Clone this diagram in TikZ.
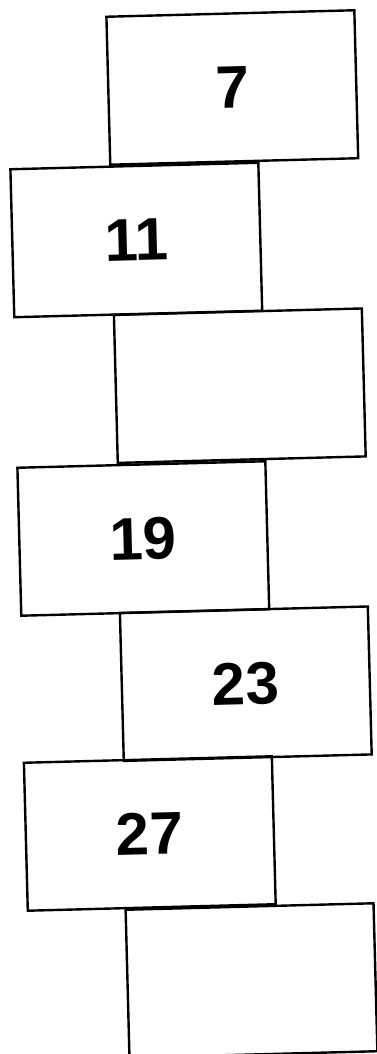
\documentclass[tikz,border=0pt]{standalone}
\usepackage{fontspec}
\setmainfont{Liberation Sans}
\tikzset{cell/.style={draw,rectangle,line width=2.4pt,minimum width=248pt,minimum height=148pt,
 rotate=1.5,inner sep=0pt,font=\bfseries\fontsize{60}{60}\selectfont}}

\begin{document}
\begin{tikzpicture}[x=1pt,y=1pt]
\useasboundingbox (0,0) rectangle (376,1054);
\node[cell](c7) at(232.3,966.5){7};
\node[cell](c11) at(136.3,814){11};
\node[cell](c15) at(239.8,668.3){};
\node[cell](c19) at(143.3,515.5){19};
\node[cell](c23) at(245.8,370.3){23};
\node[cell](c27) at(149.8,220.5){27};
\node[cell](c31) at(251.5,73.5){};
\end{tikzpicture}
\end{document}
